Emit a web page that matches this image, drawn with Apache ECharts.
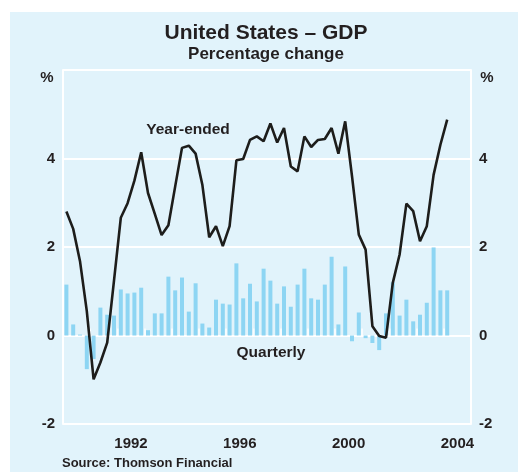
<!DOCTYPE html>
<html>
<head>
<meta charset="utf-8">
<script src="https://cdn.jsdelivr.net/npm/echarts@6/dist/echarts.min.js"></script>
<style>
  html, body { margin: 0; padding: 0; background: #fff; }
  #chart { width: 518px; height: 472px; }
</style>
</head>
<body>
<div id="chart"></div>
<script>
// quarters 1990Q1 .. 2004Q1
const years = ['1990', '1991', '1992', '1993', '1994', '1995', '1996', '1997', '1998', '1999', '2000', '2001', '2002', '2003', '2004']
const shownYears = ['1992', '1996', '2000', '2004']

const quarterly = [
  1.15, 0.25, 0.02, -0.76, -0.53, 0.63, 0.47, 0.45,
  1.04, 0.95, 0.97, 1.08, 0.12, 0.5, 0.5, 1.33,
  1.02, 1.31, 0.54, 1.18, 0.27, 0.18, 0.81, 0.72,
  0.70, 1.63, 0.84, 1.17, 0.77, 1.51, 1.24, 0.72,
  1.11, 0.65, 1.15, 1.51, 0.84, 0.81, 1.15, 1.78,
  0.25, 1.56, -0.13, 0.52, -0.06, -0.17, -0.33, 0.50,
  1.20, 0.45, 0.81, 0.32, 0.47, 0.74, 1.99, 1.02, 1.02
]

const yearEnded = [
  2.80, 2.41, 1.68, 0.55, -0.99, -0.61, -0.16, 1.24,
  2.66, 2.99, 3.50, 4.14, 3.22, 2.75, 2.27, 2.49,
  3.37, 4.24, 4.29, 4.11, 3.40, 2.22, 2.47, 2.02,
  2.47, 3.96, 3.99, 4.42, 4.50, 4.39, 4.79, 4.36,
  4.69, 3.82, 3.71, 4.50, 4.26, 4.42, 4.44, 4.69,
  4.11, 4.84, 3.60, 2.28, 1.94, 0.21, -0.01, -0.05,
  1.19, 1.83, 2.98, 2.81, 2.13, 2.47, 3.63, 4.31, 4.88
]

const yTicks = { '-2': '-2', '0': '0', '2': '2', '4': '4' }

const barPts = quarterly.map((v, i) => [i + 0.5, v])
const linePts = yearEnded.map((v, i) => [i + 0.5, v])

const txt = '#231f20'
const font = 'Liberation Sans, Arial, sans-serif'

const chart = echarts.init(document.getElementById('chart'), null, { renderer: 'canvas' })

const yAxisBase = pos => ({
  type: 'value',
  position: pos,
  min: -2,
  max: 6,
  interval: 2,
  axisLine: { show: true, lineStyle: { color: '#fff', width: 2 } },
  axisTick: { show: false },
  splitLine: { show: true, lineStyle: { color: '#fff', width: 2 } },
  axisLabel: {
    color: txt,
    fontFamily: font,
    fontWeight: 'bold',
    fontSize: 15,
    margin: 8,
    formatter: v => yTicks[String(v)] || ''
  }
})

chart.setOption({
  backgroundColor: 'transparent',
  animation: false,
  grid: { left: 63, right: 47, top: 70, bottom: 48, containLabel: false },
  xAxis: [
    {
      type: 'value',
      min: 0,
      max: years.length * 4,
      show: false
    },
    {
      type: 'category',
      data: years,
      position: 'bottom',
      boundaryGap: true,
      axisLine: { show: true, lineStyle: { color: '#fff', width: 2 } },
      axisTick: { show: true, inside: true, length: 7, interval: 0, lineStyle: { color: '#fff', width: 1.5 } },
      axisLabel: {
        interval: 0,
        color: txt,
        fontFamily: font,
        fontWeight: 'bold',
        fontSize: 15,
        margin: 12,
        formatter: v => shownYears.includes(v) ? v : ''
      },
      splitLine: { show: false }
    }
  ],
  yAxis: [yAxisBase('left'), yAxisBase('right')],
  series: [
    {
      type: 'bar',
      xAxisIndex: 0,
      yAxisIndex: 0,
      data: barPts,
      barWidth: 4,
      itemStyle: { color: '#8dd5f3' },
      z: 2
    },
    {
      type: 'line',
      xAxisIndex: 0,
      yAxisIndex: 0,
      data: linePts,
      showSymbol: false,
      lineStyle: { color: '#1d1d1b', width: 2.6 },
      z: 3
    }
  ],
  graphic: [
    { type: 'rect', z: -100, shape: { x: 10, y: 12, width: 508, height: 460 }, style: { fill: '#e1f3fb' } },
    { type: 'text', x: 266, y: 33, style: { text: 'United States – GDP', font: 'bold 21px ' + font, fill: txt, textAlign: 'center', textVerticalAlign: 'middle' } },
    { type: 'text', x: 266, y: 54, style: { text: 'Percentage change', font: 'bold 17px ' + font, fill: txt, textAlign: 'center', textVerticalAlign: 'middle' } },
    { type: 'text', x: 47, y: 78, style: { text: '%', font: 'bold 15px ' + font, fill: txt, textAlign: 'center', textVerticalAlign: 'middle' } },
    { type: 'text', x: 487, y: 78, style: { text: '%', font: 'bold 15px ' + font, fill: txt, textAlign: 'center', textVerticalAlign: 'middle' } },
    { type: 'text', x: 188, y: 130, style: { text: 'Year-ended', font: 'bold 15.5px ' + font, fill: txt, textAlign: 'center', textVerticalAlign: 'middle' } },
    { type: 'text', x: 271, y: 353, style: { text: 'Quarterly', font: 'bold 15.5px ' + font, fill: txt, textAlign: 'center', textVerticalAlign: 'middle' } },
    { type: 'text', x: 62, y: 463, style: { text: 'Source: Thomson Financial', font: 'bold 13px ' + font, fill: txt, textAlign: 'left', textVerticalAlign: 'middle' } }
  ]
})
</script>
</body>
</html>
